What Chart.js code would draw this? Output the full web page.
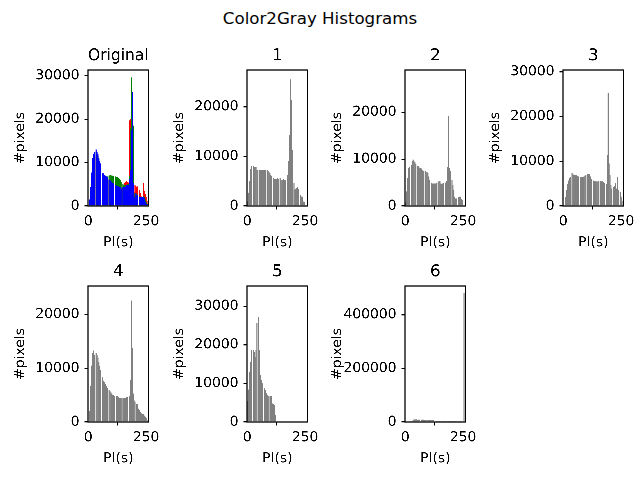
<!DOCTYPE html>
<html>
<head>
<meta charset="utf-8">
<script src="https://cdn.jsdelivr.net/npm/chart.js@4.4.0/dist/chart.umd.min.js"></script>
<style>
  html, body { margin: 0; padding: 0; background: #fff; overflow: hidden; }
  body { width: 640px; height: 480px; position: relative; font-family: 'DejaVu Sans', sans-serif; }
  #suptitle { position: absolute; left: 0; top: 9px; width: 640px; line-height: 20px; text-align: center; font-size: 16.67px; color: #000; }
  .panel { position: absolute; width: 154px; height: 209px; }
</style>
</head>
<body>
<div id="suptitle">Color2Gray Histograms</div>
<script>
// histogram counts, 64 bins of width 4 over 0..256
const binWidth = 4;

const origBlue = [0, 1500, 4400, 7700, 11100, 12000, 12400, 0, 13000, 12500, 12000, 11100, 10300, 9800, 0, 7600,
  7500, 7200, 7000, 6800, 6600, 0, 6100, 6000, 5700, 5500, 5300, 5200, 0, 4800, 4700, 4600,
  4500, 4400, 4300, 4000, 0, 4300, 4400, 4400, 4500, 4800, 4800, 4900, 6300, 8200, 17400, 26200,
  5200, 1900, 2100, 2900, 2500, 2500, 0, 2100, 2100, 2100, 2000, 2000, 1750, 1000, 460, 400];
const origGreen = [0, 1200, 4000, 7000, 10500, 11500, 12000, 0, 12500, 12000, 11500, 10800, 10000, 9500, 0, 7500,
  7400, 7100, 6900, 6800, 6800, 0, 7000, 7100, 7100, 7000, 7000, 6900, 0, 6800, 6700, 6600,
  6500, 6300, 6000, 5600, 0, 5000, 4900, 4800, 4800, 4900, 5000, 5100, 7000, 18000, 29600, 20000,
  18500, 2100, 3000, 2900, 2800, 2000, 0, 2200, 2100, 2000, 2000, 2200, 2000, 1500, 1000, 500];
const origRed = [0, 1000, 3500, 6500, 9500, 10500, 11000, 0, 11500, 11000, 10500, 10000, 9500, 9000, 0, 7000,
  7000, 6800, 6500, 6300, 6200, 0, 6000, 5900, 5600, 5400, 5200, 5100, 0, 4700, 4600, 4500,
  4400, 4300, 4200, 3900, 0, 4200, 4400, 5300, 5600, 5800, 5600, 5400, 19700, 20100, 19500, 15000,
  6000, 3300, 4900, 4600, 4400, 4500, 0, 3600, 3000, 2200, 2100, 5300, 3400, 2800, 2000, 1200];

const gray1 = [900, 2700, 5100, 7400, 8000, 0, 8000, 7900, 7800, 7800, 7300, 7300, 0, 7300, 7300, 7300,
  7300, 7200, 7200, 7300, 0, 7200, 7100, 6900, 6600, 6300, 6000, 0, 5700, 5500, 5500, 5500,
  5600, 5500, 0, 5600, 5300, 5200, 5300, 5400, 5300, 5200, 0, 6300, 9000, 14300, 25500, 21400,
  11300, 0, 4600, 3200, 3500, 3600, 3900, 3500, 0, 2200, 1900, 1900, 900, 800, 200, 0];
const gray2 = [900, 3100, 6000, 8100, 8400, 0, 8800, 9600, 9900, 9500, 9300, 8900, 0, 8600, 8500, 8200,
  8100, 8000, 7600, 7400, 0, 7400, 7300, 7200, 7000, 6300, 5600, 0, 4900, 4800, 4800, 4800,
  4800, 4900, 0, 5200, 5400, 5300, 4800, 4700, 4800, 4900, 0, 5000, 5300, 8300, 19200, 8100,
  7400, 0, 5600, 4500, 3400, 2000, 1600, 1600, 0, 1900, 2000, 2000, 1500, 1200, 0, 0];
const gray3 = [0, 0, 2000, 3600, 5000, 5700, 6200, 6500, 0, 7300, 7200, 7000, 7000, 6900, 6900, 6700,
  6600, 0, 6500, 6500, 6500, 6500, 6600, 6800, 7000, 0, 7100, 7200, 7100, 6600, 6000, 0,
  5700, 5600, 5500, 5500, 5400, 5500, 5500, 0, 5600, 5500, 5500, 5300, 5100, 0, 4900, 11400,
  25300, 9500, 7000, 4700, 3900, 0, 4300, 4500, 5200, 3900, 6500, 3600, 0, 3200, 2100, 1200];
const gray4 = [0, 2100, 6700, 10500, 12800, 13300, 12500, 0, 12800, 12500, 12000, 11200, 10500, 9700, 0, 8300,
  7700, 7400, 7100, 6700, 6300, 0, 5900, 5700, 5500, 5300, 5100, 5000, 4900, 0, 4800, 4800,
  4700, 4500, 4400, 4400, 0, 4400, 4400, 4500, 4500, 4600, 4700, 0, 4800, 7800, 22600, 13700,
  5300, 4000, 3800, 0, 3400, 3300, 2500, 2200, 1900, 1600, 1500, 1500, 1200, 1000, 700, 400];
const gray5 = [5500, 8400, 13000, 15600, 18600, 0, 18600, 18200, 16900, 18600, 25700, 0, 27100, 18600, 12200, 10900,
  10000, 0, 8700, 8300, 7500, 7000, 6600, 6700, 0, 6700, 6700, 4800, 4600, 4400, 1800, 0,
  0, 0, 0, 0, 0, 0, 0, 0, 0, 0, 0, 0, 0, 0, 0, 0,
  0, 0, 0, 0, 0, 0, 0, 0, 0, 0, 0, 0, 0, 0, 0, 0];
const gray6 = [0, 0, 0, 0, 0, 4000, 4500, 0, 9000, 9000, 9500, 9500, 9500, 9000, 9000, 9000,
  0, 9000, 9000, 9000, 8500, 8500, 8500, 0, 8500, 8000, 8000, 8000, 7500, 7500, 7000, 0,
  0, 5000, 5000, 5000, 4500, 4500, 0, 4500, 4500, 4500, 4500, 4500, 0, 4500, 4500, 4500,
  4500, 4000, 0, 4000, 4000, 4000, 4000, 4000, 0, 4000, 4000, 4000, 4000, 0, 0, 481000];

const xTicks = [0, 250];
const yTicks30k = [0, 10000, 20000, 30000];
const yTicks20k = [0, 10000, 20000];
const yTicks6 = [0, 200000, 400000];

const titles = ['Original', '1', '2', '3', '4', '5', '6'];

// axes placement (px) copied from the figure grid
const colLeft = [88, 247, 405, 563];
const rowTop = [70, 286];
const yAxisWidth = 78;
const titleBox = 26;

const framePlugin = {
    id: 'frame',
    afterDatasetsDraw(chart) {
        const { ctx, chartArea: a } = chart;
        ctx.save();
        ctx.strokeStyle = '#000';
        ctx.lineWidth = 1.1;
        ctx.strokeRect(a.left, a.top, a.right - a.left, a.bottom - a.top);
        ctx.restore();
    }
};

Chart.defaults.font.family = "'DejaVu Sans', sans-serif";
Chart.defaults.color = '#000';

function toPoints(counts) {
    return counts.map((c, i) => ({ x: i * binWidth + binWidth / 2, y: c }));
}

function makeHistogram(panel) {
    const box = document.createElement('div');
    box.className = 'panel';
    box.style.left = (colLeft[panel.col] - yAxisWidth) + 'px';
    box.style.top = (rowTop[panel.row] - titleBox) + 'px';
    const canvas = document.createElement('canvas');
    box.appendChild(canvas);
    document.body.appendChild(box);

    return new Chart(canvas, {
        type: 'bar',
        data: {
            datasets: panel.series.map(s => ({
                data: toPoints(s.counts),
                backgroundColor: s.color,
                borderWidth: 0,
                grouped: false,
                barPercentage: 1.15,
                categoryPercentage: 1
            }))
        },
        options: {
            responsive: true,
            maintainAspectRatio: false,
            animation: false,
            devicePixelRatio: 3,
            layout: { padding: { left: 0, top: 0, right: 14, bottom: 0 } },
            plugins: {
                legend: { display: false },
                tooltip: { enabled: false },
                title: {
                    display: true,
                    text: panel.title,
                    fullSize: false,
                    font: { size: 16.67, weight: 'normal' },
                    padding: { top: 2, bottom: 4 }
                }
            },
            scales: {
                x: {
                    type: 'linear',
                    min: -1,
                    max: 261,
                    offset: false,
                    grid: { drawOnChartArea: false, drawTicks: true, tickLength: 3.5, color: '#000', lineWidth: 1.1 },
                    border: { display: false },
                    ticks: { autoSkip: false, maxRotation: 0, padding: 4, font: { size: 13.9 }, callback: v => String(v) },
                    afterBuildTicks: scale => { scale.ticks = xTicks.map(v => ({ value: v })); },
                    afterFit: scale => { scale.height = 47; },
                    title: { display: true, text: 'PI(s)', font: { size: 13.9 }, padding: { top: 0, bottom: 2 } }
                },
                y: {
                    min: 0,
                    max: panel.yMax,
                    grid: { drawOnChartArea: false, drawTicks: true, tickLength: 3.5, color: '#000', lineWidth: 1.1 },
                    border: { display: false },
                    ticks: { padding: 5, font: { size: 13.9 }, callback: v => String(v) },
                    afterBuildTicks: scale => { scale.ticks = panel.yTicks.map(v => ({ value: v })); },
                    afterFit: scale => { scale.width = yAxisWidth; },
                    title: { display: true, text: '#pixels', font: { size: 13.9 }, padding: { top: 2, bottom: 0 } }
                }
            }
        },
        plugins: [framePlugin]
    });
}

const panels = [
    { title: titles[0], col: 0, row: 0, yMax: 31300, yTicks: yTicks30k,
      series: [{ counts: origBlue, color: '#0000ff' }, { counts: origGreen, color: '#008000' }, { counts: origRed, color: '#ff0000' }] },
    { title: titles[1], col: 1, row: 0, yMax: 27400, yTicks: yTicks20k, series: [{ counts: gray1, color: '#808080' }] },
    { title: titles[2], col: 2, row: 0, yMax: 29000, yTicks: yTicks20k, series: [{ counts: gray2, color: '#808080' }] },
    { title: titles[3], col: 3, row: 0, yMax: 30400, yTicks: yTicks30k, series: [{ counts: gray3, color: '#808080' }] },
    { title: titles[4], col: 0, row: 1, yMax: 25300, yTicks: yTicks20k, series: [{ counts: gray4, color: '#808080' }] },
    { title: titles[5], col: 1, row: 1, yMax: 35200, yTicks: yTicks30k, series: [{ counts: gray5, color: '#808080' }] },
    { title: titles[6], col: 2, row: 1, yMax: 507500, yTicks: yTicks6, series: [{ counts: gray6, color: '#808080' }] }
];

panels.forEach(makeHistogram);
</script>
</body>
</html>
